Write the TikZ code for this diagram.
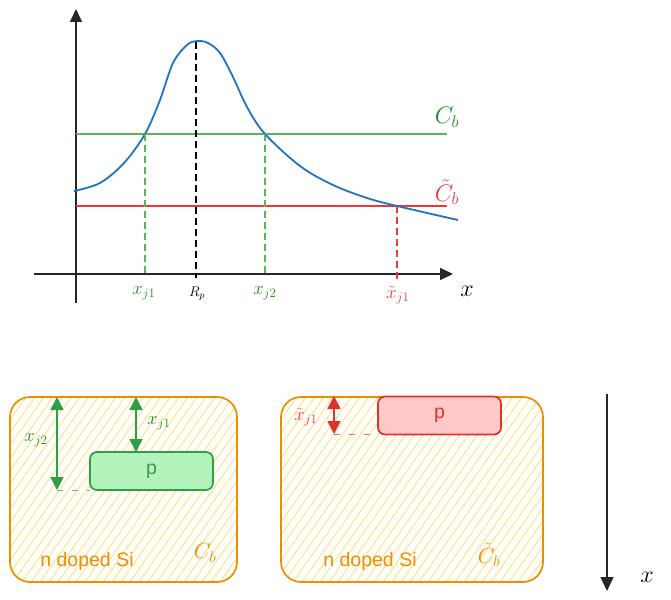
\RequirePackage{fix-cm}
\documentclass[tikz,border=0pt]{standalone}
\usepackage{fontspec}
\newfontfamily\lsans{Liberation Sans}
\usetikzlibrary{arrows.meta}
\definecolor{cblue}{HTML}{1F74C3}
\definecolor{cgreen}{HTML}{5AB55A}
\definecolor{cgreentxt}{HTML}{1E8A1E}
\definecolor{cred}{HTML}{E83A3A}
\definecolor{exgreen}{HTML}{2F9E44}
\definecolor{exgreenfill}{HTML}{B2F2BB}
\definecolor{exred}{HTML}{E03131}
\definecolor{exredfill}{HTML}{FFC9C9}
\definecolor{exorange}{HTML}{F08C00}
\definecolor{exyellow}{HTML}{FFE07A}
\tikzset{
  axisline/.style={line width=1.5pt,black!85,-{Triangle[length=13pt,width=12pt]}},
  levelg/.style={cgreen,line width=1.3pt},
  levelr/.style={cred,line width=1.3pt},
  dropg/.style={cgreen,line width=1.3pt,dash pattern=on 7pt off 4pt},
  dropr/.style={cred,line width=1.3pt,dash pattern=on 7pt off 4pt},
  dropk/.style={black,line width=1.3pt,dash pattern=on 7pt off 4pt},
  mlab/.style={font=\fontsize{18.5}{21}\selectfont},
  biglab/.style={font=\fontsize{24}{28}\selectfont},
  region/.style={draw=exorange,line width=1.7pt,rounded corners=20pt},
  hatch/.style={exyellow,line width=0.9pt},
  pbox/.style={line width=1.7pt,rounded corners=7pt},
  dim/.style={line width=1.7pt,{Triangle[length=13pt,width=13pt]}-{Triangle[length=13pt,width=13pt]}},
  sansl/.style={font=\lsans\fontsize{19.5}{22}\selectfont},
}
\begin{document}
\begin{tikzpicture}[x=1pt,y=-1pt]
\useasboundingbox (0,0) rectangle (671,599);
% ---------- top graph ----------
\coordinate (xa0) at (34,274);
\coordinate (xa1) at (453,274);
\coordinate (ya0) at (76,303);
\coordinate (ya1) at (76,9);
\draw[axisline] (xa0) -- (xa1);
\draw[axisline] (ya0) -- (ya1);
\coordinate (cb0) at (76,134);
\coordinate (cb1) at (447,134);
\coordinate (ct0) at (76,206);
\coordinate (ct1) at (447,206);
\draw[levelg] (cb0) -- (cb1);
\draw[levelr] (ct0) -- (ct1);
\draw[cblue,line width=1.8pt] plot[smooth,tension=0.55] coordinates {
 (74,191) (100,183) (124,163) (145,134) (160,100) (173,63) (187,45) (197,41)
 (208,43) (220,53) (233,77) (247,107) (265,134) (300,166) (333,185) (367,198)
 (397,206) (458,220)};
\coordinate (pj1) at (145,134);
\coordinate (aj1) at (145,276);
\coordinate (pk) at (196,42);
\coordinate (ak) at (196,278);
\coordinate (pj2) at (265,134);
\coordinate (aj2) at (265,276);
\coordinate (pt) at (397,206);
\coordinate (at) at (397,282);
\draw[dropg] (pj1) -- (aj1);
\draw[dropk] (pk) -- (ak);
\draw[dropg] (pj2) -- (aj2);
\draw[dropr] (pt) -- (at);
\node[biglab,text=cgreentxt] (lcb) at (447,117) {$C_b$};
\node[biglab,text=cred] (lct) at (447,192) {$\tilde C_b$};
\node[mlab,text=cgreentxt] (lxj1) at (144,293) {$x_{j1}$};
\node[font=\fontsize{14}{16}\selectfont] (lrp) at (197,294) {$R_p$};
\node[mlab,text=cgreentxt] (lxj2) at (265,293) {$x_{j2}$};
\node[mlab,text=cred] (lxt) at (398,295) {$\tilde x_{j1}$};
\node[biglab] (lx) at (467,291) {$x$};
% ---------- bottom left ----------
\begin{scope}
 \clip[rounded corners=20pt] (10,397) rectangle (237,582);
 \foreach \i in {-140,-131,...,240} \draw[hatch] (\i,582) -- ++(130,-185);
\end{scope}
\draw[region] (10,397) rectangle (237,582);
\node[pbox,draw=exgreen,fill=exgreenfill,minimum width=123pt,minimum height=38pt,
      text=exgreen!75!gray,sansl,inner sep=0pt] (pg) at (151.5,471) {p};
\coordinate (t1) at (136,397);
\coordinate (b1) at (136,452);
\coordinate (t2) at (57,397);
\coordinate (b2) at (57,490);
\coordinate (e2) at (90,490);
\draw[dim,exgreen] (t1) -- (b1);
\draw[dim,exgreen] (t2) -- (b2);
\draw[exgreen!70,line width=1pt,dash pattern=on 6pt off 9pt] (b2) -- (e2);
\node[mlab,text=cgreentxt] (bxj1) at (159,423) {$x_{j1}$};
\node[mlab,text=cgreentxt] (bxj2) at (36,440) {$x_{j2}$};
\node[sansl,text=exorange] (nsi1) at (87,561) {n doped Si};
\node[font=\fontsize{22}{26}\selectfont,text=exorange] (bcb) at (205,553) {$C_b$};
% ---------- bottom right ----------
\begin{scope}
 \clip[rounded corners=20pt] (281,397) rectangle (543,582);
 \foreach \i in {131,140,...,550} \draw[hatch] (\i,582) -- ++(130,-185);
\end{scope}
\draw[region] (281,397) rectangle (543,582);
\node[pbox,draw=exred,fill=exredfill,minimum width=123pt,minimum height=38pt,
      text=exred,sansl,inner sep=0pt] (pr) at (439.5,415.5) {p};
\coordinate (t3) at (334,396);
\coordinate (b3) at (334,434);
\coordinate (e3) at (378,434);
\draw[dim,exred] (t3) -- (b3);
\draw[exred!70,line width=1pt,dash pattern=on 6pt off 9pt] (b3) -- (e3);
\node[mlab,text=cred] (bxt) at (306,417) {$\tilde x_{j1}$};
\node[sansl,text=exorange] (nsi2) at (370,561) {n doped Si};
\node[font=\fontsize{22}{26}\selectfont,text=exorange] (bct) at (489,555) {$\tilde C_b$};
% ---------- depth arrow ----------
\coordinate (d0) at (607,394);
\coordinate (d1) at (607,591);
\draw[line width=1.5pt,black!85,-{Triangle[length=14pt,width=13pt]}] (d0) -- (d1);
\node[biglab] (lx2) at (647,577) {$x$};
\end{tikzpicture}
\end{document}
